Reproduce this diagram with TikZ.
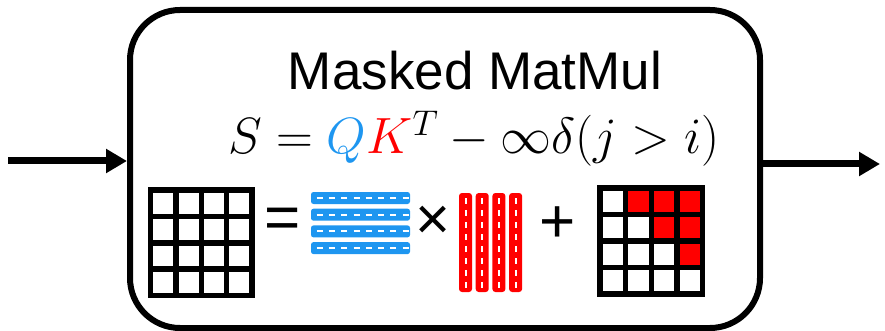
\RequirePackage{fix-cm}
\documentclass[tikz,border=0pt]{standalone}
\usepackage{fontspec}
\setmainfont{Liberation Sans}
\usetikzlibrary{arrows.meta}
\definecolor{qblue}{RGB}{30,150,240}
\definecolor{kred}{RGB}{255,0,0}
\tikzset{
  flow/.style={line width=7pt,-{Triangle[length=21pt,width=23pt]}},
  gridline/.style={line width=5.5pt},
  qbar/.style={fill=qblue,rounded corners=2.5pt},
  kbar/.style={fill=kred,rounded corners=3pt},
  qdash/.style={draw=white,line width=2pt,dash pattern=on 6pt off 6.29pt},
  kdash/.style={draw=white,line width=2pt,dash pattern=on 6pt off 6pt},
  op/.style={font=\fontsize{62}{70}\selectfont,inner sep=0pt}
}
\begin{document}
\begin{tikzpicture}[x=1pt,y=-1pt]
\useasboundingbox (0,0) rectangle (885,331);
% main box
\node[draw,line width=6pt,rounded corners=50pt,minimum width=630pt,minimum height=318pt,inner sep=0pt] (box) at (445,169) {};
% arrows
\coordinate (in) at (8,161);
\coordinate (out) at (880,164);
\draw[flow] (in) -- (in -| box.west);
\draw[flow] (out -| box.east) -- (out);
% title and formula
\node[anchor=base,font=\fontsize{53}{60}\selectfont,inner sep=0pt] (title) at (475,90) {Masked MatMul};
\node[anchor=base,font=\fontsize{51}{60}\selectfont,inner sep=0pt] (formula) at (474,154)
  {$S = {\color{qblue}Q}{\color{kred}K}^{T} - \infty\delta(j > i)$};
% result grid S
\begin{scope}[shift={(150.5,190)}]
  \foreach \i in {1,2,3} {
    \draw[gridline] (\i*25.375,0) -- (\i*25.375,105.5);
    \draw[gridline] (0,\i*26.375) -- (101.5,\i*26.375);
  }
  \draw[gridline] (0,0) rectangle (101.5,105.5);
\end{scope}
\node[op] (eq) at (282.5,223.5) {=};
% Q bars
\foreach \i in {0,1,2,3} {
  \fill[qbar] (311,192+\i*16.7) rectangle (410,204+\i*16.7);
  \draw[qdash] (316.7,198+\i*16.7) -- (408.7,198+\i*16.7);
}
\node[op,font=\fontsize{60}{64}\selectfont] (times) at (433.5,222.5) {×};
% K^T bars
\foreach \i in {0,1,2,3} {
  \fill[kbar] (459+\i*16.7,193) rectangle (472+\i*16.7,292);
  \draw[kdash] (465.5+\i*16.7,198.3) -- (465.5+\i*16.7,288.3);
}
\node[op] (plus) at (557.5,225) {+};
% mask grid
\begin{scope}[shift={(600,188)}]
  \foreach \c/\r in {1/0,2/0,3/0,2/1,3/1,3/2} {
    \fill[kred] (\c*25.625,\r*26.5) rectangle (\c*25.625+25.625,\r*26.5+26.5);
  }
  \foreach \i in {1,2,3} {
    \draw[gridline] (\i*25.625,0) -- (\i*25.625,106);
    \draw[gridline] (0,\i*26.5) -- (102.5,\i*26.5);
  }
  \draw[gridline] (0,0) rectangle (102.5,106);
\end{scope}
\end{tikzpicture}
\end{document}
